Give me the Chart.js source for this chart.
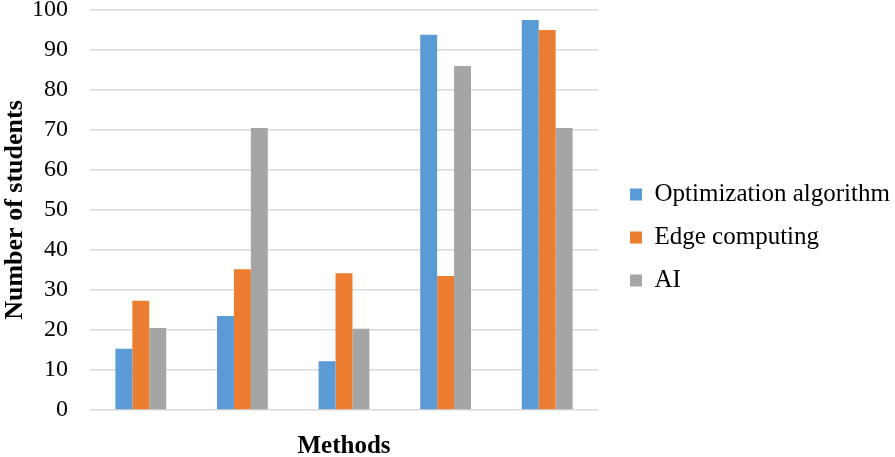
<!doctype html>
<html>
<head>
<meta charset="utf-8">
<title>Number of students by method</title>
<script src="https://cdn.jsdelivr.net/npm/chart.js"></script>
<style>
  html, body { margin: 0; padding: 0; background: #fff; }
  #wrap { width: 895px; height: 457px; }
</style>
</head>
<body>
<div id="wrap"><canvas id="chart" width="895" height="457"></canvas></div>
<script>
// values (the x categories carry no labels)
const methods = ['', '', '', '', ''];
const optAlgorithm = [15.3, 23.5, 12.2, 93.8, 97.5];
const edgeComputing = [27.3, 35.2, 34.2, 33.5, 95.0];
const aiValues = [20.5, 70.5, 20.3, 86.0, 70.5];
const yTicks = [0, 10, 20, 30, 40, 50, 60, 70, 80, 90, 100];

const serif = '"Liberation Serif", "Times New Roman", serif';
Chart.defaults.font.family = serif;
Chart.defaults.color = '#000';

// the built-in layout caps a right legend at a quarter of the width, which cuts the text
const legendFix = {
  id: 'legendFix',
  beforeLayout(chart) {
    const lg = chart.legend;
    if (lg && !lg._wide) {
      const fit = lg.fit;
      lg.fit = function () { fit.call(this); this.width = 297; };
      lg._wide = true;
    }
  },
  afterLayout(chart) {
    const lg = chart.legend;
    lg.left += 14; lg.right += 14;
    lg.top += 4; lg.bottom += 4;
  }
};

new Chart(document.getElementById('chart'), {
  type: 'bar',
  data: {
    labels: methods,
    datasets: [
      { label: 'Optimization algorithm', data: optAlgorithm, backgroundColor: '#5b9bd5' },
      { label: 'Edge computing', data: edgeComputing, backgroundColor: '#ed7d31' },
      { label: 'AI', data: aiValues, backgroundColor: '#a5a5a5' }
    ]
  },
  options: {
    responsive: false,
    animation: false,
    layout: { padding: { top: 10, right: 0, left: 0, bottom: 0 } },
    datasets: { bar: { categoryPercentage: 0.5, barPercentage: 1.0 } },
    scales: {
      x: {
        grid: { display: false },
        border: { display: false },
        ticks: { display: false },
        title: { display: true, text: 'Methods', font: { size: 25, weight: 'bold', lineHeight: 1 }, padding: { top: 0, bottom: -2 } },
        afterFit: axis => { axis.height = 47; }
      },
      y: {
        min: 0, max: 100,
        afterBuildTicks: axis => { axis.ticks = yTicks.map(v => ({ value: v })); },
        grid: { color: '#d9d9d9', lineWidth: 1.6, drawTicks: false },
        border: { display: false },
        ticks: { font: { size: 24 }, padding: 22 },
        title: { display: true, text: 'Number of students', font: { size: 26, weight: 'bold' }, padding: { top: 0, bottom: 0 } },
        afterFit: axis => { axis.width = 90; axis.paddingTop = 0; axis.paddingBottom = 0; }
      }
    },
    plugins: {
      tooltip: { enabled: false },
      legend: {
        position: 'right',
        align: 'center',
        labels: { font: { size: 25 }, boxWidth: 12, boxHeight: 12, padding: 18 }
      }
    }
  },
  plugins: [legendFix]
});
</script>
</body>
</html>
